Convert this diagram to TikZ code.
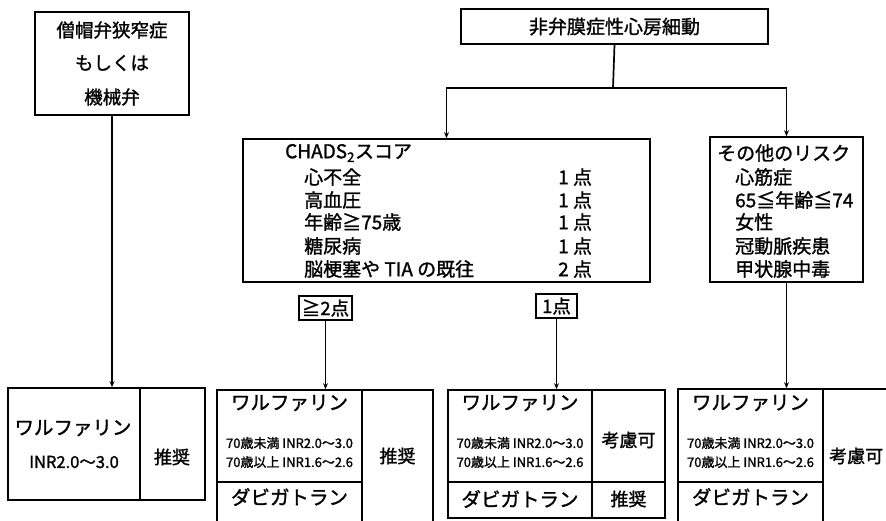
\documentclass[tikz,border=0pt]{standalone}
\usepackage{fontspec}
\setmainfont{Noto Sans CJK JP}[FakeBold=1.3]
\usetikzlibrary{arrows.meta}
\newcommand\fsz[1]{\fontsize{#1}{#1}\selectfont}
\begin{document}
\begin{tikzpicture}[x=1pt,y=-1pt,
  box/.style={draw, line width=1.7pt, inner sep=0pt},
  txt/.style={inner sep=0pt, font=\fsz{19}},
  small/.style={inner sep=0pt, font=\fsz{13}},
  ln/.style={line width=1.7pt},
  arr/.style={line width=1.7pt, -{Stealth[length=6pt,width=5pt]}}]
\useasboundingbox (0,0) rectangle (886,520);
\clip (0,0) rectangle (886,520);
% top left
\node[box, minimum width=154pt, minimum height=103pt] (mv) at (112,63.5) {};
\node[txt, font=\fsz{18.5}] (mv1) at (112,30) {僧帽弁狭窄症};
\node[txt, font=\fsz{18.5}] (mv2) at (112,63) {もしくは};
\node[txt, font=\fsz{18.5}] (mv3) at (112,97) {機械弁};
% title
\node[box, minimum width=307pt, minimum height=35pt, font=\fsz{19}] (af) at (614.5,26.5) {非弁膜症性心房細動};
\coordinate (split) at (613,88);
% CHADS box
\node[box, minimum width=407pt, minimum height=143pt] (chads) at (446.5,210.5) {};
\node[txt, anchor=west] (c0) at (285,153) {CHADS\textsubscript{2}スコア};
\node[txt, anchor=west] (c1) at (304,177) {心不全};
\node[txt, anchor=west] (c2) at (304,200) {高血圧};
\node[txt, anchor=west] (c3) at (304,222) {年齢≧75歳};
\node[txt, anchor=west] (c4) at (304,246) {糖尿病};
\node[txt, anchor=west] (c5) at (304,269) {脳梗塞や TIA の既往};
\node[txt, anchor=west] (s1) at (558,177) {1 点};
\node[txt, anchor=west] (s2) at (558,200) {1 点};
\node[txt, anchor=west] (s3) at (558,222) {1 点};
\node[txt, anchor=west] (s4) at (558,246) {1 点};
\node[txt, anchor=west] (s5) at (558,269) {2 点};
% risk box
\node[box, minimum width=153pt, minimum height=145pt] (risk) at (786.5,209.5) {};
\node[txt, anchor=west] (r0) at (717,153) {その他のリスク};
\node[txt, anchor=west] (r1) at (735,177) {心筋症};
\node[txt, anchor=west] (r2) at (735,200) {65≦年齢≦74};
\node[txt, anchor=west] (r3) at (735,222) {女性};
\node[txt, anchor=west] (r4) at (735,246) {冠動脈疾患};
\node[txt, anchor=west] (r5) at (735,269) {甲状腺中毒};
% score labels
\node[box, minimum width=53pt, minimum height=24pt, font=\fsz{18.5}] (ge2) at (325.5,308) {≧2点};
\node[box, minimum width=41pt, minimum height=24pt, font=\fsz{18.5}] (p1) at (556.5,306) {1点};
% bottom box 1
\node[box, minimum width=132pt, minimum height=112pt] (lw) at (74,444) {};
\node[box, minimum width=65pt, minimum height=112pt] (lr) at (172.5,444) {};
\node[txt, font=\fsz{19.5}] (lw1) at (73,428) {ワルファリン};
\node[txt, font=\fsz{16.5}] (lw2) at (74,462) {INR2.0〜3.0};
\node[txt, font=\fsz{18}] (lr1) at (172,457) {推奨};
% bottom box 2
\node[box, minimum width=145pt, minimum height=92pt] (w2) at (289.5,436) {};
\node[box, minimum width=145pt, minimum height=48pt] (d2) at (289.5,506) {};
\node[box, minimum width=71pt, minimum height=140pt] (rc2) at (397.5,460) {};
\node[txt, font=\fsz{19.5}] (w2a) at (289.5,403) {ワルファリン};
\node[small] (w2b) at (289.5,443) {70歳未満 INR2.0〜3.0};
\node[small] (w2c) at (289.5,462) {70歳以上 INR1.6〜2.6};
\node[txt, font=\fsz{19.5}] (d2a) at (289.5,497) {ダビガトラン};
\node[txt, font=\fsz{18}] (rc2a) at (397.5,456) {推奨};
% bottom box 3
\node[box, minimum width=144pt, minimum height=92pt] (w3) at (520,436) {};
\node[box, minimum width=144pt, minimum height=36pt] (d3) at (520,500) {};
\node[box, minimum width=73pt, minimum height=92pt] (k3) at (628.5,436) {};
\node[box, minimum width=73pt, minimum height=36pt] (rc3) at (628.5,500) {};
\node[txt, font=\fsz{19.5}] (w3a) at (520,403) {ワルファリン};
\node[small] (w3b) at (520,443) {70歳未満 INR2.0〜3.0};
\node[small] (w3c) at (520,462) {70歳以上 INR1.6〜2.6};
\node[txt, font=\fsz{19.5}] (d3a) at (520,499) {ダビガトラン};
\node[txt, font=\fsz{18}] (k3a) at (628.5,440) {考慮可};
\node[txt, font=\fsz{18}] (rc3a) at (628.5,499) {推奨};
% bottom box 4
\node[box, minimum width=145pt, minimum height=93pt] (w4) at (750.5,435.5) {};
\node[box, minimum width=145pt, minimum height=48pt] (d4) at (750.5,506) {};
\node[box, minimum width=87pt, minimum height=141pt] (k4) at (866.5,459.5) {};
\node[txt, font=\fsz{19.5}] (w4a) at (750.5,403) {ワルファリン};
\node[small] (w4b) at (750.5,443) {70歳未満 INR2.0〜3.0};
\node[small] (w4c) at (750.5,462) {70歳以上 INR1.6〜2.6};
\node[txt, font=\fsz{19.5}] (d4a) at (750.5,497) {ダビガトラン};
\node[txt, font=\fsz{18}, anchor=west] (k4a) at (829,456) {考慮可};
% connectors
\draw[ln] (af.south) -- (split);
\draw[arr] (split) -| (chads.north);
\draw[arr] (split) -| (risk.north);
\draw[arr] (mv.south) -- (mv.south |- lw.north);
\draw[arr] (ge2.south) -- (ge2.south |- w2.north);
\draw[arr] (p1.south) -- (p1.south |- w3.north);
\draw[arr] (risk.south) -- (risk.south |- w4.north);
\end{tikzpicture}
\end{document}
